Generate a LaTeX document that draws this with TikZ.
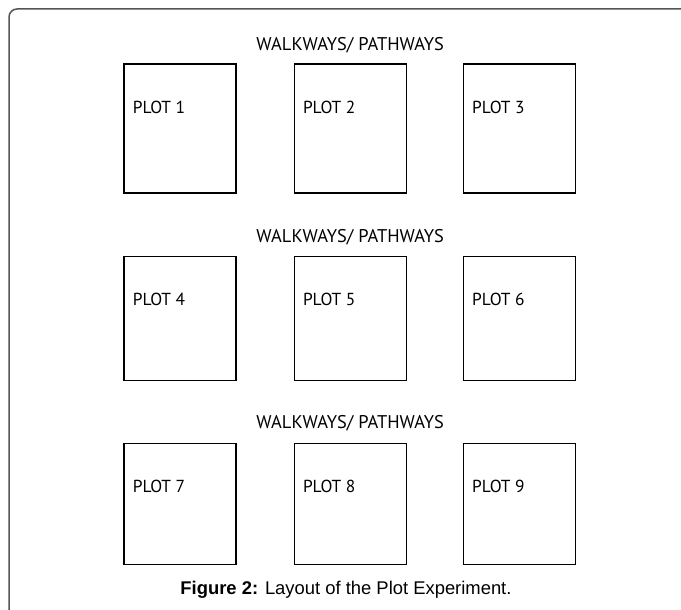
\documentclass[tikz,border=0pt]{standalone}
\usepackage{fontspec}
\setmainfont{Liberation Sans}
\newfontfamily\plotfont{PT Sans}
\usepackage{xcolor}
\definecolor{marco}{RGB}{85, 85, 85}
\usetikzlibrary{positioning}

\begin{document}
\begin{tikzpicture}[x=0.5pt, y=-0.5pt,
  plotbox/.style={rectangle, draw=black, line width=0.6pt, minimum width=56pt, inner sep=0pt},
  plotlabel/.style={anchor=west, inner sep=0pt, font=\plotfont\fontsize{8.7}{10}\selectfont},
  walkway/.style={inner sep=0pt, font=\plotfont\fontsize{9.2}{11}\selectfont},
  caption/.style={inner sep=0pt, font=\fontsize{9.2}{11}\selectfont}
]
  \useasboundingbox (0,0) rectangle (681,610);

  % outer frame, open on the right and at the bottom
  \draw[marco, line width=0.75pt, rounded corners=4pt] (9,612) -- (9,9) -- (683,9);

  % first row
  \node[plotbox, minimum height=64.5pt] (p1) at (180,128.5) {};
  \node[plotbox, minimum height=64.5pt, right=28.5pt of p1] (p2) {};
  \node[plotbox, minimum height=64.5pt, right=28pt of p2] (p3) {};

  % second row
  \node[plotbox, minimum height=62pt, below=31pt of p1] (p4) {};
  \node[plotbox, minimum height=62pt, right=28.5pt of p4] (p5) {};
  \node[plotbox, minimum height=62pt, right=28pt of p5] (p6) {};

  % third row
  \node[plotbox, minimum height=60.5pt, below=31pt of p4] (p7) {};
  \node[plotbox, minimum height=60.5pt, right=28.5pt of p7] (p8) {};
  \node[plotbox, minimum height=60.5pt, right=28pt of p8] (p9) {};

  \foreach \n in {1,...,9}
    \node[plotlabel] (l\n) at ([shift={(9,44)}]p\n.north west) {PLOT \n};

  \node[walkway] (w1) at ([yshift=9pt]p2.north) {WALKWAYS/ PATHWAYS};
  \node[walkway] (w2) at ([yshift=9pt]p5.north) {WALKWAYS/ PATHWAYS};
  \node[walkway] (w3) at ([yshift=10pt]p8.north) {WALKWAYS/ PATHWAYS};

  \node[caption] (cap) at (346,590) {\textbf{Figure 2:} Layout of the Plot Experiment.};
\end{tikzpicture}
\end{document}
